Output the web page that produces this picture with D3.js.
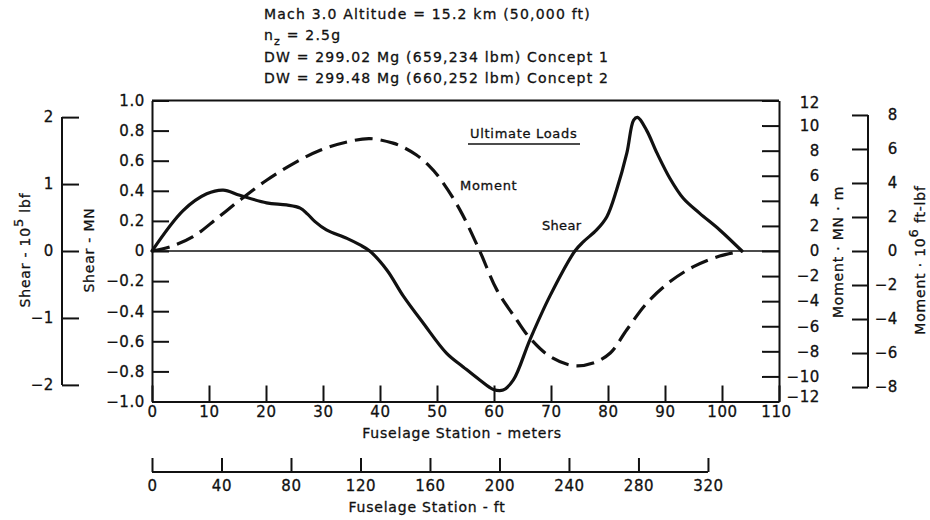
<!DOCTYPE html>
<html>
<head>
<meta charset="utf-8">
<script src="https://cdn.jsdelivr.net/npm/d3@7/dist/d3.min.js"></script>
<style>
  html, body { margin: 0; padding: 0; background: #fff; }
  svg { display: block; }
  text { font-family: "DejaVu Sans", "Liberation Sans", Arial, sans-serif; fill: #111; stroke: #111; stroke-width: 0.3px; }
</style>
</head>
<body>
<svg id="chart" width="930" height="520"></svg>
<script>
// Fuselage station (m) and ultimate shear (MN)
const shearStation = [0, 5.5, 9.6, 12.5, 15.4, 20.1, 23.6, 26, 27.3, 28.6, 30.6, 34.2, 36.5, 38.2, 41.2, 44.1, 47.6, 51.7, 54.6, 57.5, 59.9, 61.6, 63.4, 66.3, 69.8, 74.2, 75.7, 78, 79.8, 81.5, 83.3, 84.5, 85.2, 86.8, 88.6, 90.9, 93.2, 96.1, 99.6, 103.5];
const shearMN = [0, 0.27, 0.38, 0.405, 0.37, 0.32, 0.306, 0.285, 0.245, 0.195, 0.14, 0.084, 0.04, 0, -0.126, -0.30, -0.48, -0.68, -0.77, -0.857, -0.92, -0.924, -0.857, -0.59, -0.30, 0, 0.062, 0.14, 0.228, 0.405, 0.65, 0.87, 0.888, 0.80, 0.65, 0.48, 0.35, 0.25, 0.14, 0];

// Fuselage station (m) and ultimate bending moment (MN·m)
const momentStation = [0, 3.2, 7.2, 11.4, 15.4, 20.1, 24.8, 29.5, 34.2, 38.2, 42.3, 44.4, 46.4, 48.5, 50.5, 54, 57.5, 60.5, 64, 66.3, 69.8, 73.9, 77.4, 80.4, 83.3, 86.8, 90.9, 95, 99.6, 103.5];
const momentMNm = [0, 0.34, 1.14, 2.6, 4.05, 5.64, 6.97, 8.03, 8.69, 8.96, 8.6, 8.2, 7.65, 6.85, 5.8, 3.3, 0, -3.1, -5.5, -6.94, -8.4, -9.14, -8.93, -8.13, -6.28, -4.16, -2.44, -1.25, -0.4, 0];

// Tick values
const shearMNTicks = [-1.0, -0.8, -0.6, -0.4, -0.2, 0, 0.2, 0.4, 0.6, 0.8, 1.0];
const shearLbfTicks = [-2, -1, 0, 1, 2];
const momentMNmTicks = [-12, -10, -8, -6, -4, -2, 0, 2, 4, 6, 8, 10, 12];
const momentFtLbfTicks = [-8, -6, -4, -2, 0, 2, 4, 6, 8];
const meterTicks = [0, 10, 20, 30, 40, 50, 60, 70, 80, 90, 100, 110];
const footTicks = [0, 40, 80, 120, 160, 200, 240, 280, 320];

const titleLines = [
  "Mach 3.0 Altitude = 15.2 km (50,000 ft)",
  null,
  "DW = 299.02 Mg (659,234 lbm) Concept 1",
  "DW = 299.48 Mg (660,252 lbm) Concept 2"
];

// unit conversions
const LBF5_PER_MN = 2.248089;     // 10^5 lbf per MN
const FTLBF6_PER_MNM = 0.737562;  // 10^6 ft-lbf per MN·m
const FT_PER_M = 3.28084;

const svg = d3.select("#chart");
const L = 152, R = 779, T = 100.5, B = 401.5;

const x = d3.scaleLinear().domain([0, 110]).range([L, R]);
const xFt = d3.scaleLinear().domain([0, 110 * FT_PER_M]).range([L, R]);
const yShear = d3.scaleLinear().domain([-1, 1]).range([B, T]);
const yShearLbf = d3.scaleLinear().domain([-LBF5_PER_MN, LBF5_PER_MN]).range([B, T]);
const yMoment = d3.scaleLinear().domain([-12, 12]).range([B, T]);
const yMomentFt = d3.scaleLinear().domain([-12 * FTLBF6_PER_MNM, 12 * FTLBF6_PER_MNM]).range([B, T]);

const numFmt = d => d === 0 ? "0" : d3.format(".1f")(d);
const intFmt = d => d3.format("d")(d);

function styleAxis(g, fontSize, ls) {
  g.selectAll("path.domain").attr("stroke", "#111").attr("stroke-width", 2);
  g.selectAll(".tick line").attr("stroke", "#111").attr("stroke-width", 2);
  g.selectAll(".tick text")
    .style("font-family", '"DejaVu Sans", "Liberation Sans", Arial, sans-serif')
    .style("font-size", fontSize + "px")
    .style("letter-spacing", ls + "px")
    .attr("fill", "#111");
}

// main frame: top edge
svg.append("line").attr("x1", L).attr("x2", R).attr("y1", T).attr("y2", T)
  .attr("stroke", "#111").attr("stroke-width", 2);

// zero reference line
svg.append("line").attr("x1", L).attr("x2", R).attr("y1", yShear(0)).attr("y2", yShear(0))
  .attr("stroke", "#111").attr("stroke-width", 1.6);

// left axis: shear, MN
const gLeft = svg.append("g").attr("transform", `translate(${L},0)`)
  .call(d3.axisLeft(yShear).tickValues(shearMNTicks).tickFormat(numFmt)
    .tickSizeInner(-17).tickSizeOuter(0).tickPadding(7));
styleAxis(gLeft, 15, 0.6);

// right axis: moment, MN·m
const gRight = svg.append("g").attr("transform", `translate(${R},0)`)
  .call(d3.axisRight(yMoment).tickValues(momentMNmTicks).tickFormat(intFmt)
    .tickSizeInner(-17).tickSizeOuter(0).tickPadding(0));
gRight.selectAll(".tick text").attr("text-anchor", "end").attr("x", 41)
  .attr("y", d => d === -12 ? -5 : (d === 12 ? 2 : 0));
styleAxis(gRight, 15, 0.6);

// bottom axis: meters
const gBottom = svg.append("g").attr("transform", `translate(0,${B})`)
  .call(d3.axisBottom(x).tickValues(meterTicks).tickFormat(intFmt)
    .tickSizeInner(-16).tickSizeOuter(0).tickPadding(5));
gBottom.selectAll(".tick text").attr("dx", d => d === 110 ? -3 : 0);
styleAxis(gBottom, 15, 0.6);

// outer left axis: shear, 10^5 lbf
const xLbf = 62;
svg.append("line").attr("x1", xLbf).attr("x2", xLbf)
  .attr("y1", yShearLbf(-2)).attr("y2", yShearLbf(2))
  .attr("stroke", "#111").attr("stroke-width", 2);
const gLbf = svg.append("g").attr("transform", `translate(${xLbf},0)`)
  .call(d3.axisLeft(yShearLbf).tickValues(shearLbfTicks).tickFormat(intFmt)
    .tickSizeInner(-17).tickSizeOuter(0).tickPadding(8));
gLbf.select("path.domain").remove();
styleAxis(gLbf, 15, 0.6);

// outer right axis: moment, 10^6 ft-lbf
const xFtLbf = 868;
svg.append("line").attr("x1", xFtLbf).attr("x2", xFtLbf)
  .attr("y1", yMomentFt(-8)).attr("y2", yMomentFt(8))
  .attr("stroke", "#111").attr("stroke-width", 2);
const gFtLbf = svg.append("g").attr("transform", `translate(${xFtLbf},0)`)
  .call(d3.axisRight(yMomentFt).tickValues(momentFtLbfTicks).tickFormat(intFmt)
    .tickSizeInner(-16).tickSizeOuter(0).tickPadding(0));
gFtLbf.select("path.domain").remove();
gFtLbf.selectAll(".tick text").attr("text-anchor", "end").attr("x", 30);
styleAxis(gFtLbf, 15, 0.6);

// lower axis: feet
const yFt = 472;
svg.append("line").attr("x1", xFt(0)).attr("x2", xFt(320)).attr("y1", yFt).attr("y2", yFt)
  .attr("stroke", "#111").attr("stroke-width", 2);
const gFeet = svg.append("g").attr("transform", `translate(0,${yFt})`)
  .call(d3.axisBottom(xFt).tickValues(footTicks).tickFormat(intFmt)
    .tickSizeInner(-14).tickSizeOuter(0).tickPadding(8));
gFeet.select("path.domain").remove();
styleAxis(gFeet, 15, 0.6);

// curves
const shearLine = d3.line()
  .x((d, i) => x(shearStation[i]))
  .y(d => yShear(d))
  .curve(d3.curveCatmullRom.alpha(0.5));
svg.append("path").datum(shearMN)
  .attr("d", shearLine)
  .attr("fill", "none").attr("stroke", "#111").attr("stroke-width", 3.2)
  .attr("stroke-linejoin", "round").attr("stroke-linecap", "round");

const momentLine = d3.line()
  .x((d, i) => x(momentStation[i]))
  .y(d => yMoment(d))
  .curve(d3.curveCatmullRom.alpha(0.5));
svg.append("path").datum(momentMNm)
  .attr("d", momentLine)
  .attr("fill", "none").attr("stroke", "#111").attr("stroke-width", 3.2)
  .attr("stroke-dasharray", "18,8");

// axis titles
function label(xp, yp, txt, size, ls, rot) {
  const t = svg.append("text").attr("x", xp).attr("y", yp)
    .attr("text-anchor", "middle")
    .style("font-size", size + "px").style("letter-spacing", ls + "px")
    .text(txt);
  if (rot) t.attr("transform", `rotate(${rot},${xp},${yp})`);
  return t;
}
label(462, 438, "Fuselage Station - meters", 14, 0.8);
label(427, 512, "Fuselage Station - ft", 14, 0.8);
label(94, 250, "Shear - MN", 14, 0.8, -90);
label(843, 252, "Moment · MN · m", 14, 0.8, -90);

// rotated titles with superscripts
function supLabel(xp, yp, before, sup, after, rot) {
  const t = svg.append("text").attr("x", xp).attr("y", yp)
    .attr("text-anchor", "middle")
    .style("font-size", "14px").style("letter-spacing", "0.8px")
    .attr("transform", `rotate(${rot},${xp},${yp})`);
  t.append("tspan").text(before);
  t.append("tspan").attr("dy", -7).style("font-size", "13px").text(sup);
  t.append("tspan").attr("dy", 7).text(after);
  return t;
}
supLabel(30, 250, "Shear - 10", "5", " lbf", -90);
supLabel(925, 260, "Moment · 10", "6", " ft-lbf", -90);

// header block
const hx = 264;
const hY = [19, 40, 62, 83];
titleLines.forEach((s, i) => {
  if (s === null) return;
  svg.append("text").attr("x", hx).attr("y", hY[i])
    .style("font-size", "14px").style("letter-spacing", "1.2px").text(s);
});
const nz = svg.append("text").attr("x", hx).attr("y", hY[1])
  .style("font-size", "14px").style("letter-spacing", "1.2px");
nz.append("tspan").text("n");
nz.append("tspan").attr("dy", 5).style("font-size", "11px").text("z");
nz.append("tspan").attr("dy", -5).text(" = 2.5g");

// in-plot annotations
svg.append("text").attr("x", 470).attr("y", 138)
  .style("font-size", "13px").style("letter-spacing", "0.7px").text("Ultimate Loads");
svg.append("line").attr("x1", 468).attr("x2", 580).attr("y1", 144).attr("y2", 144)
  .attr("stroke", "#111").attr("stroke-width", 1.6);
svg.append("text").attr("x", 460).attr("y", 190)
  .style("font-size", "13px").style("letter-spacing", "0.7px").text("Moment");
svg.append("text").attr("x", 542).attr("y", 230)
  .style("font-size", "13px").style("letter-spacing", "0.3px").text("Shear");
</script>
</body>
</html>
